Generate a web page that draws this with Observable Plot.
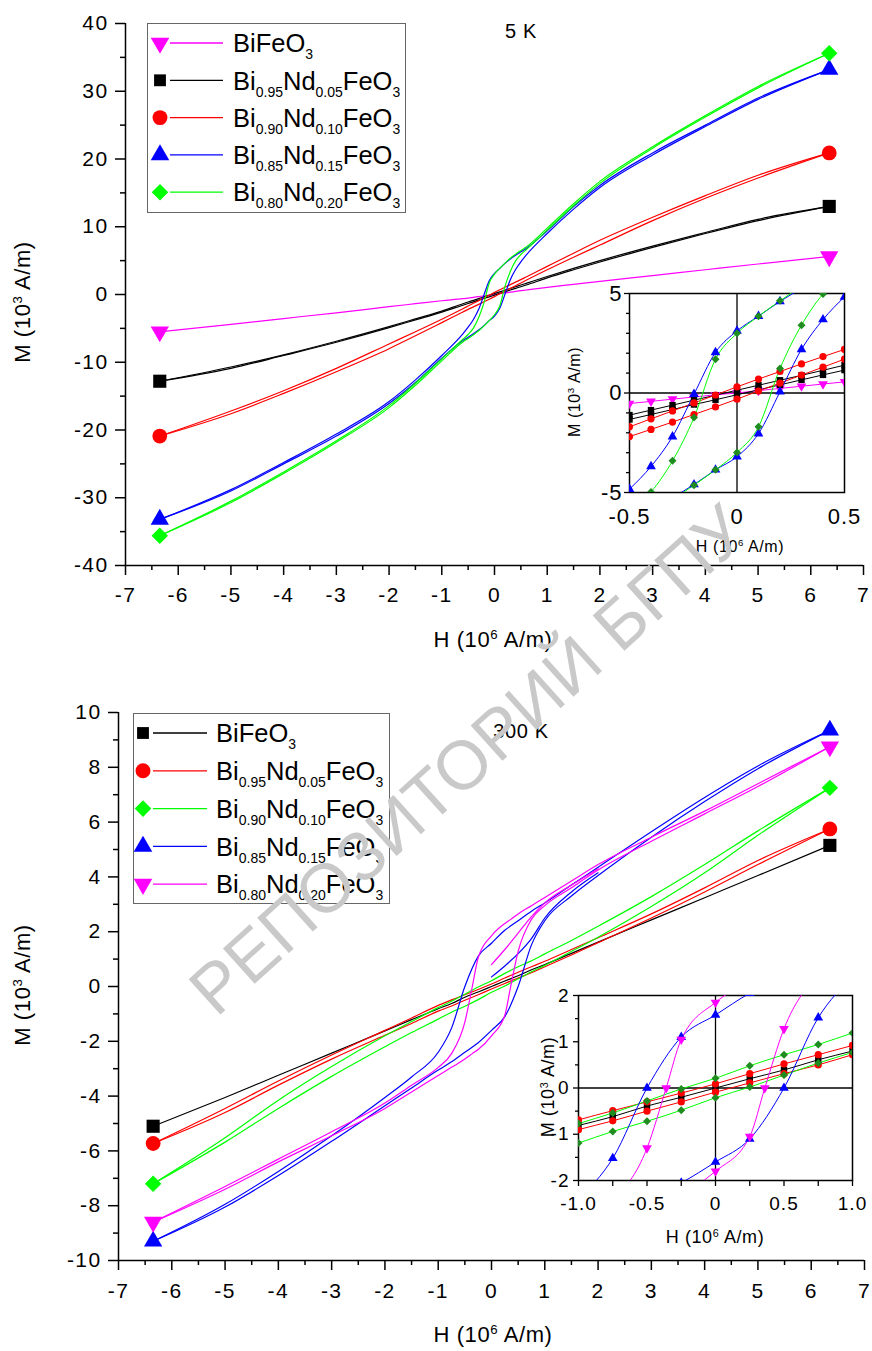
<!DOCTYPE html>
<html><head><meta charset="utf-8">
<script src="https://cdn.jsdelivr.net/npm/d3@7"></script>
<script src="https://cdn.jsdelivr.net/npm/@observablehq/plot@0.6"></script>
<style>
body{margin:0;background:#fff;}
#root{position:relative;width:872px;height:1351px;overflow:hidden;font-family:"Liberation Sans",Arial,sans-serif;color:#000;background:#fff;}
.lbl{position:absolute;white-space:nowrap;line-height:1;transform:translate(-50%,-50%);letter-spacing:0.6px;}
.rot{transform:translate(-50%,-50%) rotate(-90deg);}
sup{font-size:0.6em;vertical-align:0.6em;line-height:0;}
sub{font-size:0.55em;vertical-align:-0.5em;line-height:0;letter-spacing:0;}
.legend{position:absolute;border:1px solid #666;background:#fff;box-sizing:border-box;}
.ltext{position:absolute;white-space:nowrap;line-height:1;font-size:25.5px;}
.wm{position:absolute;white-space:nowrap;font-size:69px;color:#c9c9c9;transform:translate(-50%,-50%) rotate(-42deg);pointer-events:none;line-height:1;}
.pmain text{font-size:21px !important;font-family:"Liberation Sans",Arial,sans-serif;letter-spacing:1.4px;}
.pin5 text{font-size:22px !important;font-family:"Liberation Sans",Arial,sans-serif;letter-spacing:1px;}
.pin3 text{font-size:19px !important;font-family:"Liberation Sans",Arial,sans-serif;letter-spacing:1px;}
</style>
</head><body>
<div id="root"></div>
<script>
// ---------------- DATA: 5 K ----------------
const names5 = ["BiFeO3","Bi0.95Nd0.05FeO3","Bi0.90Nd0.10FeO3","Bi0.85Nd0.15FeO3","Bi0.80Nd0.20FeO3"];
const colors5 = ["#ff00ff","#000000","#ff0000","#0000ff","#00ff00"];
const insetMarkers5 = ["#ff00ff","#000000","#ff0000","#0000ff","#1e8c1e"];
const symbols5 = ["triangleDown","square","circle","triangle","diamond"];
const H5 = [-6.35,-5,-4,-3,-2,-1.5,-1,-0.6,-0.5,-0.4,-0.3,-0.2,-0.1,0,0.1,0.2,0.3,0.4,0.5,0.6,1,1.5,2,3,4,5,6.35];
const mag5 = [-5.5,-4.4,-3.55,-2.7,-1.8,-1.36,-0.92,-0.62,-0.53,-0.42,-0.31,-0.2,-0.09,0,0.12,0.23,0.34,0.45,0.56,0.66,1.05,1.5,1.95,2.8,3.65,4.5,5.6];
const blk5Desc = [-12.8,-10.7,-8.9,-6.9,-4.75,-3.6,-2.45,-1.36,-1.11,-0.86,-0.61,-0.36,-0.11,0.14,0.39,0.64,0.89,1.14,1.40,1.65,2.65,3.85,5.0,7.15,9.15,11.1,13.0];
const blk5Asc = [-12.8,-10.9,-9.0,-7.05,-4.9,-3.75,-2.6,-1.58,-1.33,-1.08,-0.83,-0.58,-0.34,-0.09,0.16,0.41,0.66,0.91,1.15,1.4,2.45,3.65,4.8,6.95,9.0,10.9,13.0];
const red5Desc = [-20.9,-17.2,-14.2,-10.9,-7.3,-5.5,-3.65,-2.1,-1.70,-1.3,-0.9,-0.5,-0.1,0.31,0.7,1.08,1.46,1.83,2.19,2.58,4.15,6.1,8.0,11.4,14.6,17.6,20.9];
const red5Asc = [-20.9,-17.6,-14.6,-11.4,-8.0,-6.1,-4.15,-2.58,-2.19,-1.83,-1.46,-1.08,-0.7,-0.31,0.1,0.5,0.9,1.3,1.70,2.1,3.65,5.5,7.3,10.9,14.2,17.2,20.9];
const blu5Desc = [-33.2,-28.8,-24.8,-20.6,-15.8,-12.6,-9.0,-5.8,-4.83,-3.69,-2.19,-0.06,2.04,3.12,3.86,4.6,5.25,5.8,6.3,6.8,9.4,13.0,16.1,20.9,25.0,29.0,33.2];
const blu5Asc = [-33.2,-29.0,-25.0,-20.9,-16.1,-13.0,-9.4,-6.8,-6.3,-5.8,-5.25,-4.6,-3.86,-3.2,-2.04,0.06,2.19,3.69,4.83,5.8,9.0,12.6,15.8,20.6,24.8,28.8,33.2];
const grn5Desc = [-35.6,-30.5,-26.2,-21.6,-16.4,-13.1,-9.5,-6.6,-5.9,-4.97,-3.41,-1.23,1.70,3.0,3.86,4.63,5.35,5.95,6.5,7.0,9.8,13.4,16.7,21.8,26.4,30.7,35.6];
const grn5Asc = [-35.6,-30.7,-26.4,-21.8,-16.7,-13.4,-9.8,-7.0,-6.5,-5.95,-5.35,-4.63,-3.86,-2.99,-1.70,1.23,3.41,4.97,5.9,6.6,9.5,13.1,16.4,21.6,26.2,30.5,35.6];

// ---------------- DATA: 300 K ----------------
const names3 = ["BiFeO3","Bi0.95Nd0.05FeO3","Bi0.90Nd0.10FeO3","Bi0.85Nd0.15FeO3","Bi0.80Nd0.20FeO3"];
const colors3 = ["#000000","#ff0000","#00ff00","#0000ff","#ff00ff"];
const insetMarkers3 = ["#000000","#ff0000","#1e8c1e","#0000ff","#ff00ff"];
const symbols3 = ["square","circle","diamond","triangle","triangleDown"];
const H3 = [-6.35,-5,-4,-3,-2,-1.5,-1,-0.75,-0.5,-0.25,0,0.25,0.5,0.75,1,1.5,2,3,4,5,6.35];
const blk3 = [-5.1,-4.05,-3.24,-2.43,-1.62,-1.21,-0.81,-0.62,-0.39,-0.2,0,0.2,0.39,0.61,0.8,1.21,1.62,2.43,3.24,4.05,5.15];
const red3Desc = [-5.73,-4.45,-3.45,-2.5,-1.6,-1.15,-0.69,-0.49,-0.3,-0.11,0.09,0.31,0.52,0.72,0.92,1.35,1.78,2.65,3.6,4.6,5.75];
const red3Asc = [-5.73,-4.6,-3.6,-2.65,-1.78,-1.35,-0.9,-0.71,-0.5,-0.3,-0.09,0.11,0.31,0.5,0.72,1.15,1.6,2.5,3.45,4.45,5.75];
const grn3Desc = [-7.2,-5.52,-4.15,-2.92,-1.8,-1.28,-0.77,-0.54,-0.28,-0.02,0.21,0.48,0.72,0.94,1.19,1.68,2.2,3.28,4.45,5.68,7.25];
const grn3Asc = [-7.2,-5.68,-4.45,-3.28,-2.2,-1.68,-1.19,-0.94,-0.72,-0.48,-0.21,0.02,0.28,0.54,0.77,1.28,1.8,2.92,4.15,5.52,7.25];
const blu3Desc = [-9.3,-7.95,-6.75,-5.45,-4.05,-3.3,-2.4,-1.52,0.0,1.1,1.58,2.05,2.4,2.75,3.05,3.7,4.35,5.65,6.9,8.05,9.35];
const blu3Asc = [-9.3,-8.05,-6.9,-5.65,-4.35,-3.7,-3.05,-2.75,-2.4,-2.05,-1.6,-1.1,0.0,1.52,2.4,3.3,4.05,5.45,6.75,7.95,9.35];
const HM3 = [-6.35,-5,-4,-3,-2,-1.5,-1,-0.75,-0.5,-0.36,-0.25,0,0.25,0.36,0.5,0.75,1,1.5,2,3,4,5,6.35];
const mag3Desc = [-8.6,-7.3,-6.3,-5.3,-4.25,-3.6,-2.95,-2.45,-1.3,0.0,1.05,1.85,2.3,2.45,2.65,2.95,3.25,3.85,4.45,5.45,6.4,7.4,8.75];
const mag3Asc = [-8.6,-7.4,-6.4,-5.45,-4.45,-3.85,-3.25,-2.95,-2.65,-2.45,-2.3,-1.8,-1.05,0.0,1.28,2.45,2.95,3.6,4.25,5.3,6.3,7.3,8.75];
const HV3 = [0,0.25,0.5,0.75,1,1.5,2];
const mag3Virgin = [0.8,1.35,1.95,2.55,3.05,3.7,4.3];
const blu3Virgin = [0.35,0.75,1.2,1.75,2.5,3.45,4.15];

// ---------------- AXIS TICKS ----------------
const mainXTicks = [-7,-6,-5,-4,-3,-2,-1,0,1,2,3,4,5,6,7];
const mainXLabels = ["-7","-6","-5","-4","-3","-2","-1","0","1","2","3","4","5","6","7"];
const mainXMinor = [-6.5,-5.5,-4.5,-3.5,-2.5,-1.5,-0.5,0.5,1.5,2.5,3.5,4.5,5.5,6.5];
const top5YTicks = [-40,-30,-20,-10,0,10,20,30,40];
const top5YLabels = ["-40","-30","-20","-10","0","10","20","30","40"];
const top5YMinor = [-35,-25,-15,-5,5,15,25,35];
const bot3YTicks = [-10,-8,-6,-4,-2,0,2,4,6,8,10];
const bot3YLabels = ["-10","-8","-6","-4","-2","0","2","4","6","8","10"];
const bot3YMinor = [-9,-7,-5,-3,-1,1,3,5,7,9];
const in5XTicks = [-0.5,0,0.5];
const in5XLabels = ["-0.5","0","0.5"];
const in5YTicks = [-5,0,5];
const in5YLabels = ["-5","0","5"];
const in5YMinor = [-4,-3,-2,-1,1,2,3,4];
const in3XTicks = [-1,-0.5,0,0.5,1];
const in3XLabels = ["-1.0","-0.5","0","0.5","1.0"];
const in3XMinor = [-0.75,-0.25,0.25,0.75];
const in3YTicks = [-2,-1,0,1,2];
const in3YLabels = ["-2","-1","0","1","2"];
const in3YMinor = [-1.5,-0.5,0.5,1.5];

// ---------------- HELPERS ----------------
const FONT = '"Liberation Sans", Arial, sans-serif';
const sqrt3 = Math.sqrt(3);
const triangleDown = {draw(ctx, size){ const y = Math.sqrt(size/(sqrt3*3)); ctx.moveTo(0, 2*y); ctx.lineTo(-sqrt3*y, -y); ctx.lineTo(sqrt3*y, -y); ctx.closePath(); }};
const plotSym = {square:"square", circle:"circle", triangle:"triangle", diamond:"diamond2", triangleDown};
const d3Sym = {square:d3.symbolSquare, circle:d3.symbolCircle, triangle:d3.symbolTriangle, diamond:d3.symbolDiamond2, triangleDown};
const rows = (H, M) => H.map((h,i)=>({H:h, M:M[i]}));
const fmt = (ticks, labels) => { const m = new Map(ticks.map((t,i)=>[t, labels[i]])); return d => m.get(d) ?? ""; };

const S5 = [
  {curves:[{H:H5,M:mag5}]},
  {curves:[{H:H5,M:blk5Desc},{H:H5,M:blk5Asc}]},
  {curves:[{H:H5,M:red5Desc},{H:H5,M:red5Asc}]},
  {curves:[{H:H5,M:blu5Desc},{H:H5,M:blu5Asc}]},
  {curves:[{H:H5,M:grn5Desc},{H:H5,M:grn5Asc}]}
].map((s,i)=>({...s, name:names5[i], color:colors5[i], mcolor:insetMarkers5[i], symbol:symbols5[i]}));
const S3 = [
  {curves:[{H:H3,M:blk3}]},
  {curves:[{H:H3,M:red3Desc},{H:H3,M:red3Asc}]},
  {curves:[{H:H3,M:grn3Desc},{H:H3,M:grn3Asc}]},
  {curves:[{H:H3,M:blu3Desc},{H:H3,M:blu3Asc},{H:HV3,M:blu3Virgin,virgin:true}]},
  {curves:[{H:HM3,M:mag3Desc},{H:HM3,M:mag3Asc},{H:HV3,M:mag3Virgin,virgin:true}]}
].map((s,i)=>({...s, name:names3[i], color:colors3[i], mcolor:insetMarkers3[i], symbol:symbols3[i]}));

const root = document.getElementById("root");
function place(el, left, topPx){ el.style.position="absolute"; el.style.left=left+"px"; el.style.top=topPx+"px"; root.appendChild(el); return el; }
function label(html, x, y, size, rotate){ const d=document.createElement("div"); d.className="lbl"+(rotate?" rot":""); d.style.fontSize=size+"px"; d.innerHTML=html; place(d,x,y); }
const chem = s => s.replace(/(\d+(?:\.\d+)?)/g, "<sub>$1</sub>");

function mainPlot(S, cfg){
  const marks = [
    Plot.ruleX([cfg.xDomain[0]], {strokeWidth:1.5}),
    Plot.ruleY([cfg.yDomain[0]], {strokeWidth:1.5}),
    Plot.axisX(mainXMinor, {tickSize:5, tickFormat:()=>"", strokeWidth:1.5, label:null}),
    Plot.axisX(mainXTicks, {tickSize:10, tickPadding:cfg.xPad, tickFormat:fmt(mainXTicks, mainXLabels), strokeWidth:1.5, fontSize:21, label:null}),
    Plot.axisY(cfg.yMinor, {tickSize:5, tickFormat:()=>"", strokeWidth:1.5, label:null}),
    Plot.axisY(cfg.yTicks, {tickSize:10, tickPadding:7, tickFormat:fmt(cfg.yTicks, cfg.yLabels), strokeWidth:1.5, fontSize:21, label:null})
  ];
  S.forEach(s => s.curves.forEach(c => marks.push(Plot.line(rows(c.H,c.M), {x:"H", y:"M", stroke:s.color, strokeWidth:1.2, curve:"monotone-x"}))));
  S.forEach(s => { const c = s.curves[0]; const r = rows(c.H,c.M); marks.push(Plot.dot([r[0], r[r.length-1]], {x:"H", y:"M", symbol:plotSym[s.symbol], fill:s.color, r: s.symbol==="triangle"||s.symbol==="triangleDown" ? 6.8 : 7.4})); });
  return Plot.plot({width:872, height:cfg.height, marginLeft:cfg.ml, marginRight:cfg.mr, marginTop:cfg.mt, marginBottom:cfg.mb, className:"pmain",
    x:{domain:cfg.xDomain, label:null}, y:{domain:cfg.yDomain, label:null},
    style:{fontFamily:FONT, fontSize:"21px", background:"transparent", overflow:"visible", color:"#000"}, marks});
}

function insetPlot(S, cfg){
  const marks = [
    Plot.ruleX([0], {strokeWidth:1.3}),
    Plot.ruleY([0], {strokeWidth:1.3}),
    Plot.frame({strokeWidth:1.5}),
  ];
  if (cfg.xMinor) marks.push(Plot.axisX(cfg.xMinor, {tickSize:cfg.xTickSize, tickFormat:()=>"", strokeWidth:1.3, label:null}));
  marks.push(Plot.axisX(cfg.xTicks, {tickSize:cfg.xTickSize, tickPadding:cfg.xPad, tickFormat:fmt(cfg.xTicks,cfg.xLabels), strokeWidth:1.3, fontSize:cfg.fs, label:null}));
  marks.push(Plot.axisY(cfg.yMinor, {tickSize:3, tickFormat:()=>"", strokeWidth:1.3, label:null}));
  marks.push(Plot.axisY(cfg.yTicks, {tickSize:cfg.yTickSize, tickPadding:cfg.yPad, tickFormat:fmt(cfg.yTicks,cfg.yLabels), strokeWidth:1.3, fontSize:cfg.fs, label:null}));
  S.forEach(s => s.curves.filter(c=>!c.virgin).forEach(c => marks.push(Plot.line(rows(c.H,c.M), {x:"H", y:"M", stroke:s.color, strokeWidth:1, curve:"monotone-x", clip:true}))));
  S.forEach(s => s.curves.filter(c=>!c.virgin).forEach(c => {
    const r = rows(c.H,c.M).filter(d => Math.abs(d.H) <= cfg.xDomain[1] + 1e-9);
    marks.push(Plot.dot(r, {x:"H", y:"M", symbol:plotSym[s.symbol], fill:s.mcolor, r:cfg.r, clip:true}));
  }));
  return Plot.plot({width:cfg.width, height:cfg.height, marginLeft:cfg.ml, marginRight:cfg.mr, marginTop:cfg.mt, marginBottom:cfg.mb, className:cfg.cls,
    x:{domain:cfg.xDomain, label:null}, y:{domain:cfg.yDomain, label:null},
    style:{fontFamily:FONT, fontSize:cfg.fs+"px", background:"transparent", overflow:"visible", color:"#000"}, marks});
}

function legendBox(S, box, row0, dy, symX, l1, l2, tx){
  const d = document.createElement("div"); d.className="legend";
  d.style.width=box.w+"px"; d.style.height=box.h+"px";
  place(d, box.x, box.y);
  const svg = d3.create("svg").attr("width", box.w).attr("height", box.h).style("position","absolute").style("left","-1px").style("top","-1px");
  S.forEach((s,i) => {
    const cy = row0 + i*dy;
    svg.append("line").attr("x1",l1).attr("x2",l2).attr("y1",cy).attr("y2",cy).attr("stroke",s.color).attr("stroke-width",1.3);
    const big = (s.symbol==="triangle"||s.symbol==="triangleDown") ? 150 : 175;
    svg.append("path").attr("transform",`translate(${symX},${cy})`).attr("d", d3.symbol(d3Sym[s.symbol], s.symbol==="square"?140:big)()).attr("fill", s.color);
    const t = document.createElement("div"); t.className="ltext"; t.innerHTML = chem(s.name);
    t.style.left = tx+"px"; t.style.top = (cy-12.8)+"px"; d.appendChild(t);
  });
  d.appendChild(svg.node());
}

// ---------------- TOP PANEL (5 K) ----------------
const topMain = mainPlot(S5, {height:660, ml:125, mr:9, mt:23, mb:95, xDomain:[-7,7], yDomain:[-40,40], yTicks:top5YTicks, yLabels:top5YLabels, yMinor:top5YMinor, xPad:12});
place(topMain, 0, 0);
const in5 = insetPlot(S5, {cls:"pin5", width:320, height:300, ml:89, mr:16, mt:23, mb:78, xDomain:[-0.5,0.5], yDomain:[-5,5],
  xTicks:in5XTicks, xLabels:in5XLabels, xMinor:null, xTickSize:0, xPad:16, yTicks:in5YTicks, yLabels:in5YLabels, yMinor:in5YMinor, yTickSize:5, yPad:2, fs:22, r:3.6});
place(in5, 540, 270);
legendBox(S5, {x:147, y:23, w:259, h:190}, 20, 37.3, 13, 23, 76, 85);
label("5 K", 521, 31, 20);
label("M (10<sup>3</sup> A/m)", 23, 302, 22, true);
label("H (10<sup>6</sup> A/m)", 493, 640, 22);
label("M (10<sup>3</sup> A/m)", 575, 392, 16, true);
label("H (10<sup>6</sup> A/m)", 740, 547, 16);

// ---------------- BOTTOM PANEL (300 K) ----------------
const botMain = mainPlot(S3, {height:691, ml:118, mr:8, mt:52, mb:91, xDomain:[-7,7], yDomain:[-10,10], yTicks:bot3YTicks, yLabels:bot3YLabels, yMinor:bot3YMinor, xPad:13});
place(botMain, 0, 660);
const in3 = insetPlot(S3, {cls:"pin3", width:370, height:300, ml:78, mr:18, mt:35, mb:80, xDomain:[-1,1], yDomain:[-2,2],
  xTicks:in3XTicks, xLabels:in3XLabels, xMinor:in3XMinor, xTickSize:6, xPad:10, yTicks:in3YTicks, yLabels:in3YLabels, yMinor:in3YMinor, yTickSize:5, yPad:4, fs:19, r:3.6});
place(in3, 500, 960);
legendBox(S3, {x:133, y:713, w:257, h:191}, 20, 37.8, 10, 20, 74, 82);
label("300 K", 521, 731, 20);
label("M (10<sup>3</sup> A/m)", 23, 985, 22, true);
label("H (10<sup>6</sup> A/m)", 493, 1335, 22);
label("M (10<sup>3</sup> A/m)", 548, 1087, 18, true);
label("H (10<sup>6</sup> A/m)", 715, 1237, 18);

// ---------------- WATERMARK ----------------
const wm = document.createElement("div"); wm.className="wm"; wm.textContent="РЕПОЗИТОРИЙ БГПУ";
place(wm, 468, 760);
</script>
</body></html>
